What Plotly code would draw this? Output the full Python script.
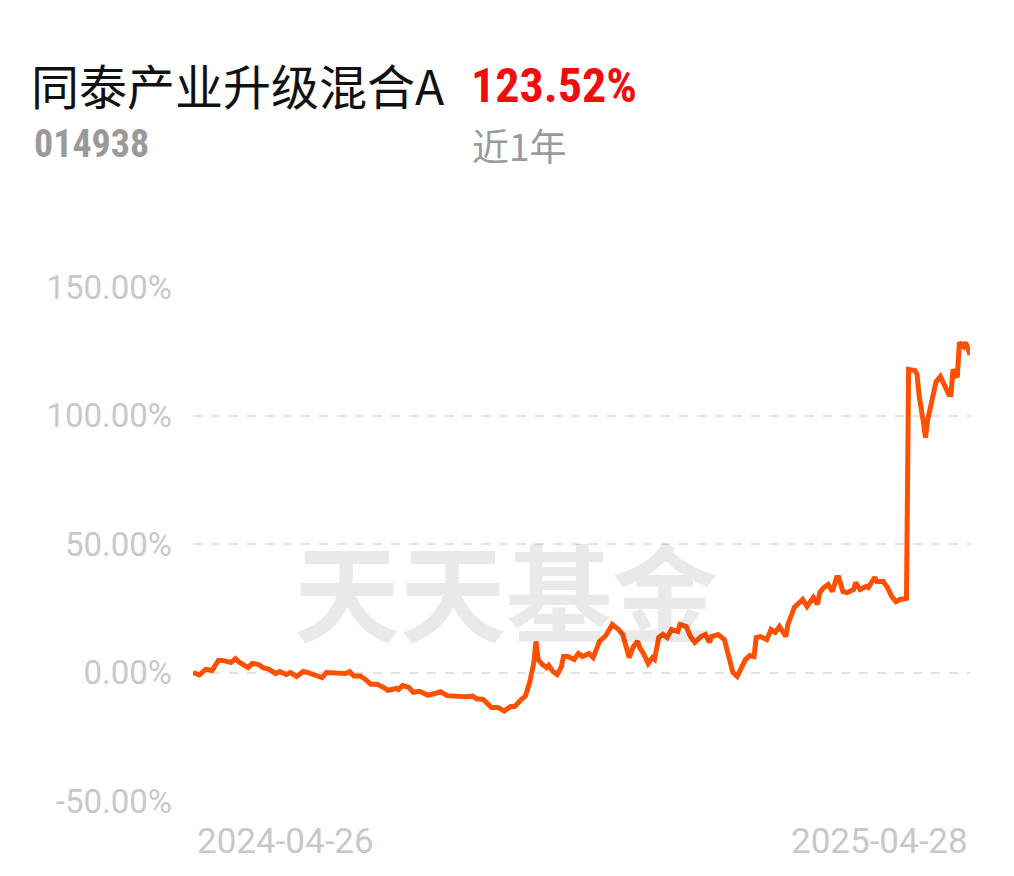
import datetime as dt
import plotly.graph_objects as go

fund_name = "同泰产业升级混合A"
fund_code = "014938"
period_return = "123.52%"
period_label = "近1年"
watermark = "天天基金"
start_date = "2024-04-26"
end_date = "2025-04-28"

# calendar-day offsets from start_date, and cumulative return (%)
day_offsets = [0, 3, 6, 9, 12, 14, 18, 20, 22, 26, 28, 31, 33, 36, 39, 41, 44, 46, 49, 52,
               54, 58, 61, 63, 66, 70, 72, 74, 76, 79, 81, 84, 87, 90, 92, 96, 97, 99, 102, 104,
               107, 111, 114, 117, 120, 125, 129, 132, 134, 137, 139, 141, 144, 147, 150, 152, 155, 157, 159, 161,
               162, 163, 165, 167, 168, 170, 172, 174, 175, 177, 180, 182, 184, 187, 189, 191, 192, 195, 196, 198,
               201, 203, 206, 208, 210, 211, 213, 215, 217, 218, 220, 222, 224, 226, 229, 230, 233, 235, 237, 240,
               242, 244, 245, 248, 251, 253, 255, 257, 259, 261, 263, 265, 266, 268, 271, 273, 275, 277, 280, 281,
               284, 286, 288, 290, 293, 295, 296, 298, 300, 302, 304, 305, 307, 309, 312, 313, 315, 318, 319, 322,
               323, 326, 328, 330, 332, 334, 337, 338, 341, 342, 343, 345, 346, 347, 350, 351, 353, 355, 357, 358,
               359, 361, 362, 364, 365, 367]
returns = [0.0, -0.9, 1.2, 0.8, 4.7, 4.7, 3.9, 5.4, 3.9, 1.9, 3.5, 3.1, 1.9, 1.2, -0.4, 0.4, -0.8, 0.0, -1.5, 0.4,
           0.0, -0.9, -2.0, 0.0, 0.0, -0.4, -0.4, 0.3, -1.4, -1.4, -2.4, -4.6, -4.6, -5.8, -6.9, -6.2, -6.6, -5.1, -5.8, -7.7,
           -7.3, -8.9, -8.2, -7.5, -9.0, -9.4, -9.4, -9.2, -10.2, -10.5, -11.8, -13.6, -13.6, -15.0, -13.2, -13.2, -10.5, -9.2, -3.9, 3.9,
           12.1, 5.1, 3.1, 1.9, 2.8, 0.4, -0.8, 2.3, 6.2, 6.2, 5.1, 7.4, 6.2, 7.4, 5.8, 10.1, 12.1, 14.4, 15.6, 18.7,
           16.7, 14.8, 5.8, 10.1, 12.1, 9.7, 7.0, 3.5, 5.8, 5.1, 13.6, 14.8, 13.6, 16.7, 16.0, 18.7, 17.9, 14.0, 11.7, 14.0,
           14.8, 11.7, 14.0, 14.8, 12.8, 7.0, 0.0, -1.5, 1.9, 5.1, 6.6, 6.2, 13.6, 14.0, 12.8, 16.7, 15.6, 17.9, 14.0, 18.7,
           25.3, 27.2, 28.4, 25.7, 29.2, 26.5, 31.1, 33.1, 34.2, 31.5, 37.0, 37.0, 31.5, 31.1, 32.3, 35.0, 32.3, 33.5, 33.1, 37.0,
           35.4, 35.4, 33.1, 29.6, 27.6, 28.4, 28.8, 117.9, 117.5, 116.0, 107.4, 97.3, 91.4, 98.4, 109.0, 113.2, 115.2, 112.1, 108.2, 108.2,
           117.9, 114.8, 128.4, 126.8, 128.4, 123.52]

y_tick_values = [150, 100, 50, 0, -50]
y_tick_labels = ["150.00%", "100.00%", "50.00%", "0.00%", "-50.00%"]

start = dt.date.fromisoformat(start_date)
dates = [start + dt.timedelta(days=d) for d in day_offsets]

fig = go.Figure()
fig.add_trace(go.Scatter(
    x=dates, y=returns, mode="lines",
    line=dict(color="#FF5000", width=5, shape="linear"),
    hoverinfo="skip", showlegend=False,
))

# page body adds an 8px offset, so work in page pixels minus 8
OFF = 8
W, H = 1014 - OFF, 876 - OFF
L, T = 193 - OFF, 287 - OFF
pw, ph = 777, 514
R, B = W - L - pw, H - T - ph


def px(x):
    return (x - OFF - L) / pw


def py(y):
    return (H - B - (y - OFF)) / ph


narrow = "Liberation Sans Narrow, Roboto Condensed, Roboto"
annotations = [
    dict(text=fund_name, x=px(29), y=py(84), xanchor="left", yanchor="middle",
         font=dict(family="Noto Sans CJK SC", size=48, color="#111111")),
    dict(text="<b>" + fund_code + "</b>", x=px(32), y=py(144), xanchor="left", yanchor="middle",
         font=dict(family=narrow, size=38, color="#9a9a9a")),
    dict(text="<b>" + period_return + "</b>", x=px(469), y=py(85), xanchor="left", yanchor="middle",
         font=dict(family=narrow, size=48, color="#F20D0D")),
    dict(text=period_label, x=px(470), y=py(145), xanchor="left", yanchor="middle",
         font=dict(family="Noto Sans CJK SC", size=37, color="#9a9a9a")),
    dict(text="<b>" + watermark + "</b>", x=px(506), y=py(588), xanchor="center", yanchor="middle",
         font=dict(family="Noto Sans CJK SC", size=106, color="rgba(0,0,0,0.085)")),
    dict(text=start_date, x=px(195), y=py(841), xanchor="left", yanchor="middle",
         font=dict(family="Roboto", size=35, color="#c8c8c8")),
    dict(text=end_date, x=px(970), y=py(841), xanchor="right", yanchor="middle",
         font=dict(family="Roboto", size=35, color="#c8c8c8")),
]
for a in annotations:
    a.update(xref="paper", yref="paper", showarrow=False)

fig.update_layout(
    width=W, height=H,
    margin=dict(l=L, r=R, t=T, b=B),
    paper_bgcolor="white", plot_bgcolor="white",
    annotations=annotations,
    xaxis=dict(range=[dates[0], dates[-1]], showgrid=False, showticklabels=False,
               zeroline=False, showline=False, ticks=""),
    yaxis=dict(range=[-50, 150], tickvals=y_tick_values, ticktext=y_tick_labels,
               showgrid=True, gridcolor="#e3e3e3", gridwidth=2, griddash="dash",
               zeroline=False, showline=False, ticks="", ticklabelstandoff=20,
               tickfont=dict(family="Roboto", size=33, color="#c8c8c8")),
)

fig.write_html("out.html")
